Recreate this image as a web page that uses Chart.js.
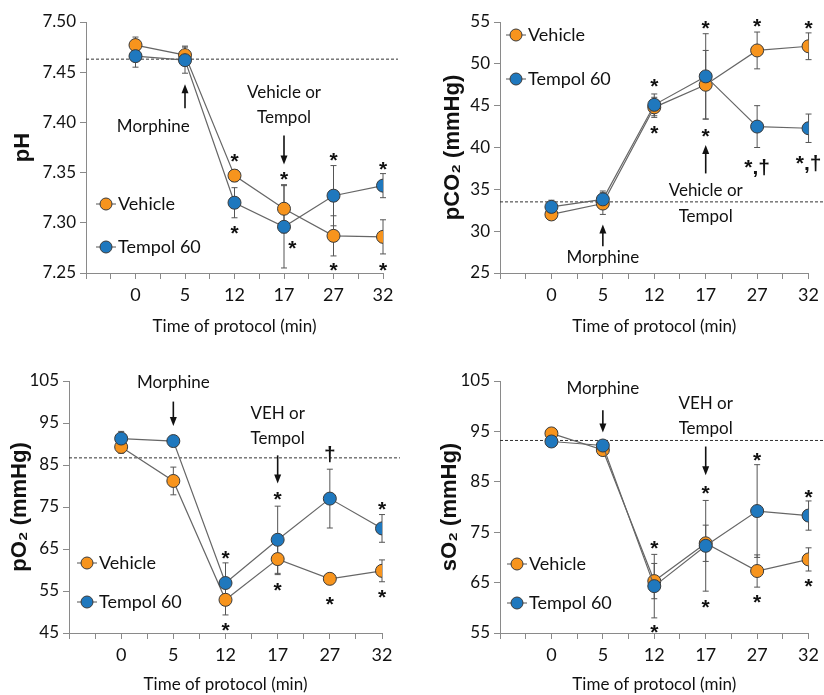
<!DOCTYPE html>
<html>
<head>
<meta charset="utf-8">
<script src="https://cdn.jsdelivr.net/npm/chart.js@4"></script>
<style>
  body { margin: 0; background: #fff; }
  #wrap { position: relative; width: 824px; height: 695px; overflow: hidden; }
  .p { position: absolute; width: 412px; height: 347px; }
</style>
</head>
<body>
<div id="wrap">
  <div class="p" style="left:0;top:0"><canvas id="ph"></canvas></div>
  <div class="p" style="left:412px;top:0"><canvas id="pco2"></canvas></div>
  <div class="p" style="left:0;top:348px"><canvas id="po2"></canvas></div>
  <div class="p" style="left:412px;top:348px"><canvas id="so2"></canvas></div>
</div>
<script>
// time points (min)
const times = ['0', '5', '12', '17', '27', '32'];

// pH
const phVehicle = [7.477, 7.467, 7.347, 7.314, 7.287, 7.286];
const phVehicleErr = [0.008, 0.009, 0.006, 0.024, 0.020, 0.017];
const phTempol = [7.466, 7.462, 7.320, 7.296, 7.327, 7.337];
const phTempolErr = [0.011, 0.013, 0.015, 0.041, 0.030, 0.012];
const phBaseline = 7.463;

// pCO2
const pco2Vehicle = [32.0, 33.3, 44.8, 47.5, 51.6, 52.1];
const pco2VehicleErr = [0.6, 1.3, 1.2, 4.1, 2.2, 1.6];
const pco2Tempol = [32.9, 33.8, 45.1, 48.5, 42.5, 42.3];
const pco2TempolErr = [0.8, 1.0, 1.3, 5.1, 2.5, 1.7];
const pco2Baseline = 33.5;

// pO2
const po2Vehicle = [89.3, 81.2, 52.9, 62.6, 57.9, 59.8];
const po2VehicleErr = [1.5, 3.3, 3.6, 3.7, 1.0, 2.6];
const po2Tempol = [91.3, 90.7, 56.9, 67.2, 77.0, 69.9];
const po2TempolErr = [1.7, 0.5, 4.8, 8.0, 7.0, 3.3];
const po2Baseline = 86.7;

// sO2
const so2Vehicle = [94.6, 91.3, 65.3, 72.8, 67.3, 69.6];
const so2VehicleErr = [1.0, 0.8, 3.5, 3.6, 3.2, 2.3];
const so2Tempol = [93.0, 92.2, 64.3, 72.3, 79.2, 78.3];
const so2TempolErr = [0.8, 0.6, 6.3, 9.0, 9.2, 2.9];
const so2Baseline = 93.2;

// significance marks: [time index, value, text]
const phMarks = [[2, 7.367, '*'], [2, 7.295, '*'], [3, 7.349, '*'], [3.17, 7.280, '*'],
                 [4, 7.368, '*'], [4, 7.258, '*'], [5, 7.359, '*'], [5, 7.258, '*']];
const pco2Marks = [[2, 47.9, '*'], [2, 42.3, '*'], [3, 54.9, '*'], [3, 42.0, '*'],
                   [4, 55.1, '*'], [4, 38.3, '*,†'], [5, 54.9, '*'], [5, 38.8, '*,†']];
const po2Marks = [[2, 64.1, '*'], [2, 47.0, '*'], [3, 78.2, '*'], [3, 56.5, '*'],
                  [4, 88.9, '†'], [4, 53.2, '*'], [5, 75.6, '*'], [5, 54.8, '*']];
const so2Marks = [[2, 72.8, '*'], [2, 56.2, '*'], [3, 83.8, '*'], [3, 61.2, '*'],
                  [4, 90.4, '*'], [4, 62.2, '*'], [5, 83.0, '*'], [5, 65.3, '*']];

// text notes: [time index, value, text]; arrows: [time index, from value, to value]
const phNotes = [[0.36, 7.396, 'Morphine'], [3, 7.430, 'Vehicle or'], [3, 7.405, 'Tempol']];
const phArrows = [[1, 7.414, 7.438], [3, 7.387, 7.358]];
const pco2Notes = [[1, 26.8, 'Morphine'], [3, 34.85, 'Vehicle or'], [3, 31.75, 'Tempol']];
const pco2Arrows = [[1, 28.2, 30.8], [3, 36.9, 40.3]];
const po2Notes = [[1, 104.7, 'Morphine'], [3, 97.3, 'VEH or'], [3, 91.3, 'Tempol']];
const po2Arrows = [[1, 100.1, 94.3], [3, 87.3, 80.6]];
const so2Notes = [[1, 103.5, 'Morphine'], [3, 100.6, 'VEH or'], [3, 95.5, 'Tempol']];
const so2Arrows = [[1, 99.2, 94.8], [3, 92.0, 86.3]];

const seriesNames = ['Vehicle', 'Tempol 60'];
const ORANGE = '#F7941D';
const BLUE = '#1F78BE';
const FONT = "Lato, 'Liberation Sans', sans-serif";
const INK = '#111';

const extras = {
  id: 'extras',
  beforeDatasetsDraw(chart, args, o) {
    const ctx = chart.ctx, xs = chart.scales.x, ys = chart.scales.y, a = chart.chartArea;
    ctx.save();
    // baseline
    const by = ys.getPixelForValue(o.baseline);
    ctx.strokeStyle = '#333';
    ctx.lineWidth = 1;
    ctx.setLineDash([3, 2]);
    ctx.beginPath();
    ctx.moveTo(a.left, by);
    ctx.lineTo(o.baselineRight, by);
    ctx.stroke();
    ctx.setLineDash([]);
    // error bars
    ctx.strokeStyle = '#555';
    o.errors.forEach((err, di) => {
      const vals = chart.data.datasets[di].data;
      err.forEach((e, i) => {
        const x = xs.getPixelForValue(vals[i].x);
        const y1 = ys.getPixelForValue(vals[i].y + e);
        const y2 = ys.getPixelForValue(vals[i].y - e);
        ctx.beginPath();
        ctx.moveTo(x, y1); ctx.lineTo(x, y2);
        ctx.moveTo(x - 3, y1); ctx.lineTo(x + 3, y1);
        ctx.moveTo(x - 3, y2); ctx.lineTo(x + 3, y2);
        ctx.stroke();
      });
    });
    ctx.restore();
  },
  afterDatasetsDraw(chart, args, o) {
    const ctx = chart.ctx, xs = chart.scales.x, ys = chart.scales.y;
    ctx.save();
    ctx.fillStyle = INK;
    ctx.textAlign = 'center';
    // marks
    ctx.font = "bold 21px 'Liberation Sans', Arial, sans-serif";
    ctx.textBaseline = 'alphabetic';
    o.marks.forEach(m => {
      ctx.fillText(m[2], xs.getPixelForValue(m[0]), ys.getPixelForValue(m[1]) + 12);
    });
    // notes
    ctx.font = '17px ' + FONT;
    ctx.textBaseline = 'middle';
    o.notes.forEach(n => {
      ctx.fillText(n[2], xs.getPixelForValue(n[0]), ys.getPixelForValue(n[1]));
    });
    // arrows
    ctx.strokeStyle = INK;
    ctx.lineWidth = 1.6;
    o.arrows.forEach(ar => {
      const x = xs.getPixelForValue(ar[0]);
      const y1 = ys.getPixelForValue(ar[1]);
      const y2 = ys.getPixelForValue(ar[2]);
      const dir = y2 > y1 ? 1 : -1;
      ctx.beginPath();
      ctx.moveTo(x, y1); ctx.lineTo(x, y2 - dir * 6);
      ctx.stroke();
      ctx.beginPath();
      ctx.moveTo(x, y2);
      ctx.lineTo(x - 3.5, y2 - dir * 9);
      ctx.lineTo(x + 3.5, y2 - dir * 9);
      ctx.closePath();
      ctx.fill();
    });
    // legend
    const lg = o.legend;
    [ORANGE, BLUE].forEach((c, i) => {
      const y = lg.y + i * lg.gap;
      ctx.strokeStyle = '#555';
      ctx.lineWidth = 1;
      ctx.beginPath();
      ctx.moveTo(lg.x - 10, y); ctx.lineTo(lg.x + 10, y);
      ctx.stroke();
      ctx.beginPath();
      ctx.arc(lg.x, y, 6, 0, Math.PI * 2);
      ctx.fillStyle = c;
      ctx.fill();
      ctx.strokeStyle = '#3a3a3a';
      ctx.stroke();
      ctx.fillStyle = INK;
      ctx.textAlign = 'left';
      ctx.font = '18px ' + FONT;
      ctx.fillText(seriesNames[i], lg.x + 12, y);
    });
    ctx.restore();
  }
};

function makePanel(id, p) {
  const toPts = arr => arr.map((v, i) => ({ x: i, y: v }));
  const axisColor = '#8a8a8a';
  new Chart(document.getElementById(id), {
    type: 'line',
    data: {
      datasets: [
        { label: seriesNames[1], data: toPts(p.tempol), order: 0 },
        { label: seriesNames[0], data: toPts(p.vehicle), order: 1 }
      ].map((d, i) => Object.assign(d, {
        borderColor: '#666',
        borderWidth: 1.2,
        backgroundColor: i === 0 ? BLUE : ORANGE,
        pointBackgroundColor: i === 0 ? BLUE : ORANGE,
        pointBorderColor: '#3a3a3a',
        pointBorderWidth: 1,
        pointRadius: 6.5,
        tension: 0
      }))
    },
    options: {
      responsive: true,
      maintainAspectRatio: false,
      animation: false,
      events: [],
      layout: { padding: { top: p.top, right: p.right, left: 0, bottom: 0 } },
      plugins: {
        legend: { display: false },
        tooltip: { enabled: false },
        extras: {
          baseline: p.baseline,
          baselineRight: p.baselineRight,
          errors: [p.tempolErr, p.vehicleErr],
          marks: p.marks,
          notes: p.notes,
          arrows: p.arrows,
          legend: p.legend
        }
      },
      scales: {
        x: {
          type: 'linear',
          min: -1,
          max: 5,
          afterFit: s => { s.height = p.xHeight; },
          ticks: {
            stepSize: 0.5,
            autoSkip: false,
            maxRotation: 0,
            padding: 5,
            color: INK,
            font: { family: FONT, size: 18 },
            callback: v => (Number.isInteger(v) && v >= 0) ? times[v] : ''
          },
          grid: { drawOnChartArea: false, tickLength: 6, color: axisColor },
          border: { color: axisColor },
          title: {
            display: true,
            text: 'Time of protocol (min)',
            color: INK,
            font: { family: FONT, size: 17 },
            padding: { top: 0, bottom: p.xTitlePad }
          }
        },
        y: {
          min: p.min,
          max: p.max,
          afterFit: s => { s.width = p.yWidth; },
          ticks: {
            stepSize: p.step,
            padding: 4,
            color: INK,
            font: { family: FONT, size: 17 },
            callback: v => v.toFixed(p.decimals)
          },
          grid: { drawOnChartArea: false, tickLength: 6, color: axisColor },
          border: { color: axisColor },
          title: {
            display: true,
            text: p.title,
            color: INK,
            font: { family: "'Liberation Sans', Arial, sans-serif", size: 22, weight: 'bold' },
            padding: { top: p.yTitlePad, bottom: 0 }
          }
        }
      }
    },
    plugins: [extras]
  });
}

makePanel('ph', {
  vehicle: phVehicle, vehicleErr: phVehicleErr, tempol: phTempol, tempolErr: phTempolErr,
  baseline: phBaseline, marks: phMarks, notes: phNotes, arrows: phArrows,
  min: 7.25, max: 7.50, step: 0.05, decimals: 2, title: 'pH',
  top: 22, right: 29, yWidth: 86, xHeight: 74, xTitlePad: 10, yTitlePad: 10,
  baselineRight: 398, legend: { x: 106, y: 204, gap: 43 }
});
makePanel('pco2', {
  vehicle: pco2Vehicle, vehicleErr: pco2VehicleErr, tempol: pco2Tempol, tempolErr: pco2TempolErr,
  baseline: pco2Baseline, marks: pco2Marks, notes: pco2Notes, arrows: pco2Arrows,
  min: 25, max: 55, step: 5, decimals: 0, title: 'pCO₂ (mmHg)',
  top: 22, right: 12, yWidth: 88, xHeight: 74, xTitlePad: 10, yTitlePad: 28,
  baselineRight: 412, legend: { x: 104, y: 35, gap: 44 }
});
makePanel('po2', {
  vehicle: po2Vehicle, vehicleErr: po2VehicleErr, tempol: po2Tempol, tempolErr: po2TempolErr,
  baseline: po2Baseline, marks: po2Marks, notes: po2Notes, arrows: po2Arrows,
  min: 45, max: 105, step: 10, decimals: 0, title: 'pO₂ (mmHg)',
  top: 33, right: 30, yWidth: 69, xHeight: 62, xTitlePad: 0, yTitlePad: 7,
  baselineRight: 400, legend: { x: 87, y: 215, gap: 39 }
});
makePanel('so2', {
  vehicle: so2Vehicle, vehicleErr: so2VehicleErr, tempol: so2Tempol, tempolErr: so2TempolErr,
  baseline: so2Baseline, marks: so2Marks, notes: so2Notes, arrows: so2Arrows,
  min: 55, max: 105, step: 10, decimals: 0, title: 'sO₂ (mmHg)',
  top: 33, right: 12, yWidth: 88, xHeight: 62, xTitlePad: 0, yTitlePad: 25,
  baselineRight: 412, legend: { x: 105, y: 216, gap: 39 }
});
</script>
</body>
</html>
